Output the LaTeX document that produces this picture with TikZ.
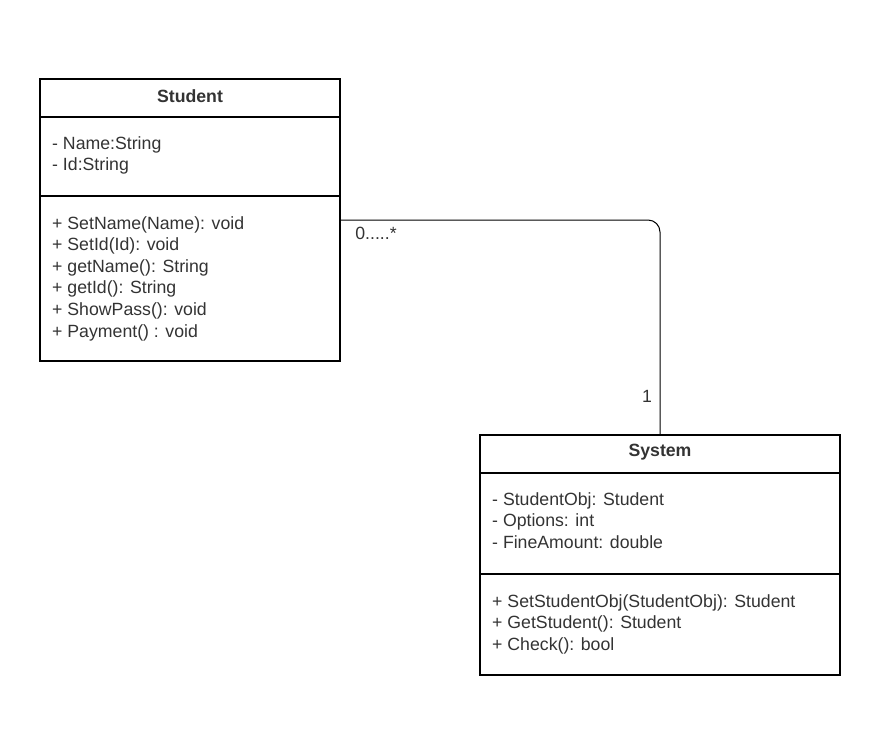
\documentclass[tikz,border=0pt]{standalone}
\usepackage{fontspec}
\setmainfont{Liberation Sans}
\usetikzlibrary{positioning}
\newcommand{\umltextsize}{\fontsize{17.7}{21.6}\selectfont}
\definecolor{umltext}{HTML}{333333}
\tikzstyle{classbox}=[draw, line width=1.3pt, inner sep=0, outer sep=0]
\tikzstyle{classname}=[font=\umltextsize\bfseries, text=umltext, inner sep=0]
\tikzstyle{members}=[font=\umltextsize, text=umltext, align=left, anchor=north west, inner sep=0]
\tikzstyle{multiplicity}=[font=\umltextsize, text=umltext, inner sep=0]
\tikzstyle{umldiagram}=[x=1pt, y=-1pt,
                        % one unit is one pixel of the reference
                        every path/.style={line join=miter}]

\begin{document}
\begin{tikzpicture}[umldiagram]
    \useasboundingbox (0, 0) rectangle (875, 750);
    % Student class
    \node[classbox, minimum width=300pt, minimum height=282pt] (student) at (190, 220) {};
    \node[classname] (studentname) at (190, 96) {Student};
    \draw[line width=1.3pt] (student.west |- 0, 117) coordinate (sdiv1) -- (sdiv1 -| student.east);
    \draw[line width=1.3pt] (student.west |- 0, 196) coordinate (sdiv2) -- (sdiv2 -| student.east);
    \node[members] (studentattrs) at (52, 136) {- Name:String\\- Id:String};
    \node[members] (studentops) at (52, 216) {+ SetName(Name): void\\+ SetId(Id): void\\+ getName(): String\\+ getId(): String\\+ ShowPass(): void\\+ Payment() : void};
    % System class
    \node[classbox, minimum width=360pt, minimum height=240pt] (system) at (660, 555) {};
    \node[classname] (systemname) at (660, 452) {System};
    \draw[line width=1.3pt] (system.west |- 0, 473) coordinate (ydiv1) -- (ydiv1 -| system.east);
    \draw[line width=1.3pt] (system.west |- 0, 574) coordinate (ydiv2) -- (ydiv2 -| system.east);
    \node[members] (systemattrs) at (492, 492) {- StudentObj: Student\\- Options: int\\- FineAmount: double};
    \node[members] (systemops) at (492, 594) {+ SetStudentObj(StudentObj): Student\\+ GetStudent(): Student\\+ Check(): bool};
    % association
    \draw[line width=1pt, rounded corners=12pt] (student.east) -| (system.north);
    \node[multiplicity] (manyend) at (376, 233) {0.....*};
    \node[multiplicity] (oneend) at (647, 396) {1};
\end{tikzpicture}
\end{document}
